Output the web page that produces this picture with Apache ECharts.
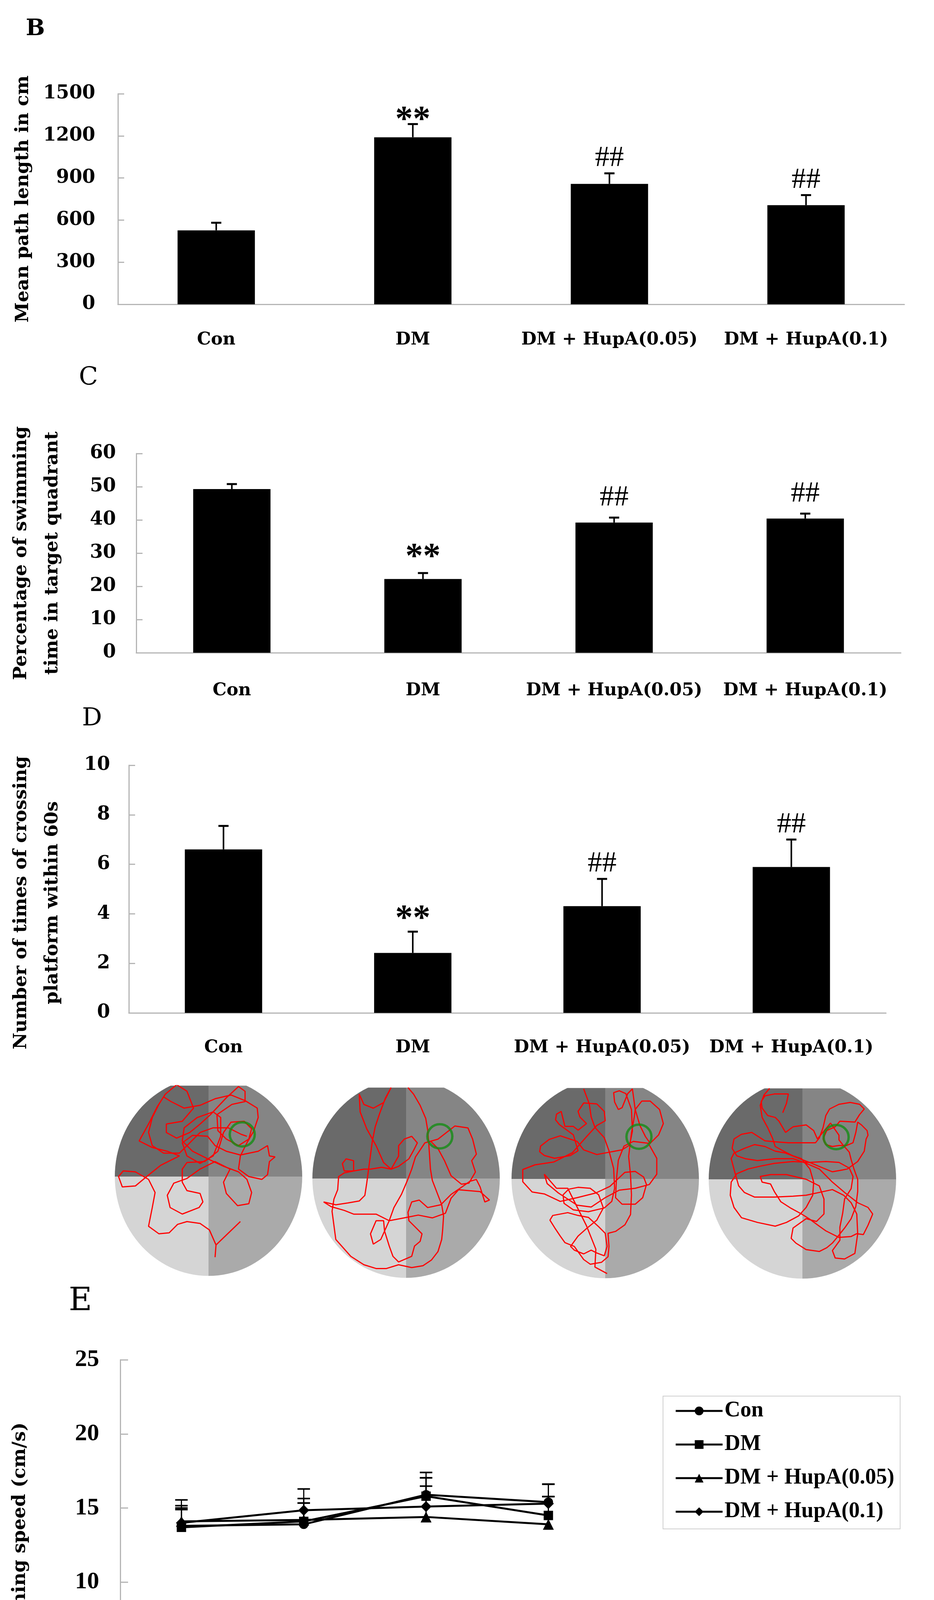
<!DOCTYPE html>
<html><head><meta charset="utf-8">
<script src="https://cdn.jsdelivr.net/npm/echarts/dist/echarts.min.js"></script>
<style>html,body{margin:0;padding:0;background:#fff}#c{width:2392px;height:4599px}</style>
</head><body><div id="c"></div>
<script>
// ---------- data ----------
const groups = ['Con', 'DM', 'DM + HupA(0.05)', 'DM + HupA(0.1)'];
const sigMarks = ['', '**', '##', '##'];

const pathMean = [527, 1190, 858, 706];
const pathErr = [54, 94, 75, 72];
const pathTicks = [0, 1500, 300];

const quadMean = [49.3, 22.2, 39.2, 40.4];
const quadErr = [1.5, 1.8, 1.5, 1.5];
const quadTicks = [0, 60, 10];

const crossMean = [6.6, 2.42, 4.31, 5.89];
const crossErr = [0.95, 0.86, 1.1, 1.11];
const crossTicks = [0, 10, 2];

const days = ['day 1', 'day 2', 'day 3', 'day 4'];
const speedCon = [13.8, 13.9, 15.9, 15.4];
const speedDM = [13.7, 14.1, 15.8, 14.5];
const speedH05 = [14.1, 14.2, 14.4, 13.9];
const speedH1 = [14.0, 14.85, 15.1, 15.3];
const errCon = [1.36, 1.44, 1.5, 1.21];
const errDM = [1.3, 1.54, 1.24, 1.27];
const errH05 = [1.45, 1.14, 2.08, 1.87];
const errH1 = [0.9, 1.44, 1.94, 1.31];
const speedTicks = [0, 25, 5];

// swim paths (pool units: pool half-width = 100)
const platform = [36, 45];
const traceCon = [[7,-86],[8,-73],[34,-48],[8,-73],[1,-57],[-9,-50],[-23,-48],[-33,-51],[-42,-60],[-53,-61],[-64,-53],[-60,-33],[-57,-17],[-64,-3],[-78,5],[-91,6],[-96,0],[-92,-11],[-78,-10],[-66,0],[-51,12],[-31,22],[-44,27],[-60,31],[-74,38],[-64,56],[-55,74],[-46,88],[-34,98],[-23,91],[-16,73],[-28,59],[-45,56],[-45,47],[-34,41],[-20,47],[-9,56],[2,66],[19,84],[32,96],[39,91],[39,80],[25,77],[9,66],[10,49],[19,40],[32,33],[43,40],[46,51],[38,59],[24,58],[16,47],[10,27],[-4,16],[-23,15],[-28,8],[-28,-6],[-23,-15],[-9,-18],[-6,-27],[-10,-33],[-28,-40],[-41,-33],[-44,-20],[-37,-7],[-23,-2],[-9,8],[7,16],[23,8],[16,-6],[19,-18],[31,-31],[43,-29],[46,-17],[41,-3],[32,5],[16,11],[-1,19],[-17,27],[-28,38],[-26,52],[-12,63],[5,69],[13,63],[13,43],[5,22],[-9,14],[-23,22],[-28,36],[-17,44],[-1,43],[7,33],[19,27],[34,23],[53,27],[63,33],[65,22],[71,21],[65,16],[63,2],[57,-3],[43,0],[32,8],[34,22],[41,36],[48,48],[53,63],[52,73],[39,81],[24,87],[7,83],[-9,76],[-26,73],[-40,80],[-48,85],[-53,77],[-60,63],[-64,47],[-60,33],[-48,25],[-31,25],[-20,36],[-9,47],[5,52],[21,52],[35,45],[41,43]];
const traceDM = [[2,97],[8,90],[15,78],[21,64],[23,52],[24,40],[25,25],[26,10],[28,-2],[33,-15],[38,-28],[40,-40],[39,-55],[38,-65],[34,-78],[27,-87],[18,-93],[6,-95],[-8,-92],[-21,-96],[-32,-96],[-45,-92],[-59,-83],[-75,-65],[-77,-50],[-79,-35],[-77,-22],[-73,-12],[-72,2],[-66,6],[-56,8],[-56,19],[-64,21],[-68,16],[-66,8],[-56,8],[-45,10],[-38,10],[-26,12],[-16,10],[-8,13],[3,21],[8,30],[12,38],[6,45],[-2,42],[-8,35],[-8,24],[-16,10],[-24,17],[-32,35],[-42,53],[-49,71],[-50,90],[-45,79],[-35,75],[-24,81],[-16,97],[-22,86],[-28,70],[-33,55],[-36,40],[-38,25],[-40,10],[-42,-5],[-44,-18],[-50,-24],[-62,-26],[-75,-28],[-88,-25],[-80,-30],[-66,-34],[-56,-38],[-44,-38],[-32,-38],[-18,-45],[-2,-42],[13,-39],[28,-42],[42,-37],[48,-21],[56,-12],[68,-13],[79,-14],[89,-23],[84,-25],[79,-9],[75,-1],[68,-3],[61,-8],[48,-17],[37,-28],[23,-31],[14,-23],[6,-25],[2,-36],[3,-45],[10,-52],[17,-59],[15,-67],[9,-72],[6,-83],[-8,-89],[-14,-83],[-18,-72],[-23,-56],[-24,-45],[-32,-45],[-38,-59],[-35,-70],[-27,-65],[-18,-45],[-13,-31],[-5,-17],[1,-3],[6,10],[10,23],[20,38],[34,42],[52,56],[66,54],[71,42],[75,26],[70,19],[74,7],[67,-5],[59,-6],[48,3],[41,19],[34,32],[26,40]];
const traceH05 = [[-23,96],[-17,80],[-15,66],[-11,55],[-1,44],[4,30],[9,11],[10,-10],[7,-24],[-1,-31],[-18,-35],[-34,-33],[-44,-26],[-45,-17],[-39,-11],[-29,-9],[-16,-10],[-7,-17],[-2,-31],[-9,-44],[-20,-53],[-29,-61],[-37,-72],[-33,-76],[-23,-80],[-15,-76],[-9,-79],[-1,-82],[2,-72],[0,-58],[-7,-51],[-18,-41],[-29,-39],[-40,-36],[-56,-39],[-59,-44],[-54,-52],[-48,-61],[-43,-68],[-33,-72],[-23,-86],[-16,-91],[-4,-89],[3,-83],[4,-72],[3,-58],[11,-56],[21,-49],[27,-38],[28,-17],[27,4],[25,24],[28,49],[31,66],[32,74],[39,83],[48,83],[58,74],[62,59],[57,47],[48,38],[43,45],[37,57],[32,74],[29,96],[24,91],[18,76],[14,74],[10,82],[9,92],[15,94],[22,91],[28,74],[29,51],[26,36],[18,31],[7,29],[-9,26],[-23,31],[-30,40],[-48,46],[-60,42],[-69,35],[-70,29],[-65,25],[-54,22],[-37,25],[-29,30],[-34,47],[-49,58],[-53,63],[-52,69],[-47,72],[-43,56],[-34,56],[-29,52],[-20,59],[-27,66],[-29,72],[-23,81],[-9,80],[-1,72],[0,62],[-9,57],[-20,45],[-35,28],[-55,18],[-75,15],[-88,10],[-88,-3],[-78,-14],[-65,-16],[-48,-24],[-30,-20],[-10,-15],[5,-8],[21,7],[32,8],[41,2],[44,-6],[40,-20],[32,-27],[18,-27],[11,-20],[12,0],[14,20],[20,35],[30,40],[46,38],[55,22],[55,5],[47,-6],[32,-10],[15,-12],[0,-20],[-15,-30],[-30,-28],[-50,-15],[-62,-5],[-65,5],[-52,-10],[-40,-10],[-20,-50],[-10,-75],[-11,-94],[2,-101]];
const traceH1 = [[-35,97],[-41,90],[-45,79],[-43,66],[-37,55],[-32,44],[-29,35],[-20,30],[-10,25],[-1,22],[8,11],[12,-3],[11,-17],[4,-30],[-4,-39],[-17,-46],[-29,-50],[-48,-46],[-65,-41],[-73,-30],[-77,-17],[-76,-3],[-70,6],[-58,11],[-45,14],[-30,17],[-10,19],[7,18],[25,19],[39,18],[50,12],[54,3],[52,-10],[45,-21],[43,-36],[40,-51],[40,-65],[32,-76],[35,-84],[45,-85],[56,-79],[59,-58],[58,-37],[52,-25],[44,-17],[32,-11],[18,-14],[4,-17],[-10,-18],[-30,-19],[-51,-19],[-62,-14],[-68,-7],[-72,7],[-76,22],[-73,28],[-62,33],[-51,37],[-40,35],[-29,30],[-18,28],[-3,22],[10,17],[22,12],[32,8],[43,10],[48,11],[59,19],[66,30],[68,43],[70,47],[69,52],[63,58],[59,61],[57,50],[54,39],[47,36],[39,36],[32,35],[25,37],[22,43],[26,52],[35,56],[40,62],[56,61],[61,69],[66,75],[61,80],[51,82],[39,80],[29,75],[25,68],[22,55],[18,44],[14,39],[-1,39],[-15,39],[-29,40],[-40,41],[-54,50],[-65,48],[-73,43],[-75,33],[-70,25],[-61,22],[-48,20],[-29,22],[-10,22],[4,17],[18,11],[26,3],[32,-3],[45,-14],[59,-25],[70,-30],[75,-37],[70,-49],[65,-59],[58,-58],[52,-61],[39,-62],[25,-55],[18,-50],[7,-42],[-1,-37],[-12,-31],[-23,-24],[-30,-13],[-34,-5],[-43,-3],[-45,3],[-34,5],[-17,5],[4,0],[18,-7],[23,-21],[23,-37],[15,-45],[4,-42],[-10,-52],[-12,-63],[-7,-68],[4,-75],[18,-77],[26,-73],[32,-68],[37,-62],[45,-52],[52,-42],[57,-29],[59,-13],[59,0],[55,11],[52,21],[50,29],[43,37],[39,42],[39,47],[30,60],[16,43],[12,52],[4,58],[-10,56],[-18,50],[-25,62],[-29,66],[-37,68],[-43,76],[-44,83],[-40,89],[-30,91],[-15,91],[-17,81],[-21,71]];
const traces = [traceCon, traceDM, traceH05, traceH1];

// ---------- layout / style ----------
const SERIF = 'DejaVu Serif';
const TIMES = 'Liberation Serif';
const AX = '#b5b5b5';
const chart = echarts.init(document.getElementById('c'), null, {renderer: 'canvas'});

const barGrids = [
  {left: 302, top: 240, width: 2014, height: 539},
  {left: 349, top: 1161, width: 1958, height: 510},
  {left: 330, top: 1959, width: 1939, height: 634}
];
const eGrid = {left: 308, top: 3481, width: 1253, height: 949};
const poolCenters = [[534, 3012], [1040, 3017], [1550, 3018], [2055, 3019]];
const POOL_RX = 100, POOL_RY = 106, POOL_TOP = 97, UNIT = 2.4;

const grids = barGrids.concat([eGrid]).concat(poolCenters.map(c => ({
  left: c[0] - POOL_RX * UNIT, top: c[1] - POOL_TOP * UNIT,
  width: 2 * POOL_RX * UNIT, height: (POOL_TOP + POOL_RY) * UNIT
}))).map(g => Object.assign({outerBoundsMode: 'none', containLabel: false}, g));

function catAxis(gi, margin) {
  return {
    type: 'category', gridIndex: gi, data: groups,
    axisLine: {lineStyle: {color: AX, width: 3}},
    axisTick: {inside: true, length: 15, lineStyle: {color: AX, width: 3}},
    axisLabel: {interval: 0, hideOverlap: false, margin: margin, color: '#000', fontFamily: SERIF, fontWeight: 'bold', fontSize: 45, lineHeight: 50}
  };
}
function valAxis(gi, t, name, gap, labelMargin, extra) {
  return Object.assign({
    type: 'value', gridIndex: gi, min: t[0], max: t[1], interval: t[2],
    splitLine: {show: false},
    axisLine: {show: true, lineStyle: {color: AX, width: 3}},
    axisTick: {show: true, inside: true, length: 16, lineStyle: {color: AX, width: 3}},
    axisLabel: {margin: labelMargin, color: '#000', fontFamily: SERIF, fontWeight: 'bold', fontSize: 48,
      formatter: v => String(v)},
    name: name, nameLocation: 'middle', nameRotate: 90, nameGap: gap,
    nameTextStyle: {color: '#000', fontFamily: SERIF, fontWeight: 'bold', fontSize: 47, lineHeight: 80}
  }, extra || {});
}

function errRenderer(marks, offStar, offHash, capHalf, lw) {
  return function (params, api) {
    const x = api.value(0), m = api.value(1), e = api.value(2);
    const p0 = api.coord([x, m]), p1 = api.coord([x, m + e]);
    const ch = [
      {type: 'line', shape: {x1: p0[0], y1: p0[1], x2: p1[0], y2: p1[1]}, style: {stroke: '#000', lineWidth: lw}},
      {type: 'line', shape: {x1: p1[0] - capHalf, y1: p1[1], x2: p1[0] + capHalf, y2: p1[1]}, style: {stroke: '#000', lineWidth: lw + 1}}
    ];
    const mk = marks ? marks[params.dataIndex % marks.length] : '';
    if (mk) {
      const star = mk === '**';
      ch.push({type: 'text', style: {
        text: mk, x: p1[0], y: p1[1] - (star ? offStar : offHash), fill: '#000',
        font: star ? 'bold 90px "Liberation Serif"' : 'normal 74px "Liberation Serif"',
        align: 'center', verticalAlign: 'middle', textAlign: 'center', textVerticalAlign: 'middle'
      }});
    }
    return {type: 'group', children: ch};
  };
}

function barSet(gi, mean, err, offStar, offHash) {
  return [
    {type: 'bar', xAxisIndex: gi, yAxisIndex: gi, data: mean, barWidth: 198,
     itemStyle: {color: '#000'}, silent: true, z: 2},
    {type: 'custom', xAxisIndex: gi, yAxisIndex: gi, z: 3, silent: true,
     data: mean.map((m, i) => [i, m, err[i]]),
     renderItem: errRenderer(sigMarks, offStar, offHash, 13, 4)}
  ];
}

function poolRenderer(params, api) {
  const cols = ['#858585', '#6a6a6a', '#d5d5d5', '#aaaaaa'];
  const children = [];
  for (let q = 0; q < 4; q++) {
    const pts = [api.coord([0, 0])];
    for (let a = q * 90; a <= q * 90 + 90; a += 3) {
      const r = a * Math.PI / 180;
      pts.push(api.coord([POOL_RX * Math.cos(r), POOL_RY * Math.sin(r)]));
    }
    children.push({type: 'polygon', shape: {points: pts}, style: {fill: cols[q]}});
  }
  return {type: 'group', children: children};
}

const xAxes = [catAxis(0, 66), catAxis(1, 72), catAxis(2, 64),
  {type: 'value', gridIndex: 3, min: 0.5, max: 4.5, interval: 0.5,
   splitLine: {show: false},
   axisLine: {lineStyle: {color: AX, width: 3}},
   axisTick: {inside: true, length: 15, lineStyle: {color: AX, width: 3}},
   axisLabel: {margin: 66, color: '#000', fontFamily: TIMES, fontWeight: 'bold', fontSize: 64,
     formatter: v => (Number.isInteger(v) ? days[v - 1] : '')}}
];
const yAxes = [
  valAxis(0, pathTicks, 'Mean path length in cm', 172, 58),
  valAxis(1, quadTicks, 'Percentage of swimming\ntime in target quadrant', 174, 52),
  valAxis(2, crossTicks, 'Number of times of crossing\nplatform within 60s', 155, 48,
    {nameTextStyle: {color: '#000', fontFamily: SERIF, fontWeight: 'bold', fontSize: 47, lineHeight: 80, padding: [0, 70, 0, 0]}}),
  valAxis(3, speedTicks, 'Swimming speed (cm/s)', 216, 54,
    {axisLabel: {margin: 54, color: '#000', fontFamily: TIMES, fontWeight: 'bold', fontSize: 62},
     axisTick: {show: true, inside: true, length: 20, lineStyle: {color: AX, width: 3}}})
];
poolCenters.forEach((c, k) => {
  xAxes.push({type: 'value', gridIndex: 4 + k, min: -POOL_RX, max: POOL_RX, show: false});
  yAxes.push({type: 'value', gridIndex: 4 + k, min: -POOL_RY, max: POOL_TOP, show: false});
});

const speedSets = [
  {name: 'Con', data: speedCon, err: errCon, symbol: 'circle', size: 24},
  {name: 'DM', data: speedDM, err: errDM, symbol: 'rect', size: 24},
  {name: 'DM + HupA(0.05)', data: speedH05, err: errH05, symbol: 'triangle', size: 28},
  {name: 'DM + HupA(0.1)', data: speedH1, err: errH1, symbol: 'diamond', size: 28}
];

const series = []
  .concat(barSet(0, pathMean, pathErr, 8, 38))
  .concat(barSet(1, quadMean, quadErr, 38, 50))
  .concat(barSet(2, crossMean, crossErr, 30, 38));

speedSets.forEach(s => {
  series.push({type: 'custom', xAxisIndex: 3, yAxisIndex: 3, z: 2, silent: true,
    data: s.data.map((v, i) => [i + 1, v, s.err[i]]),
    renderItem: errRenderer(null, 0, 0, 16, 3)});
});
speedSets.forEach(s => {
  series.push({type: 'line', name: s.name, xAxisIndex: 3, yAxisIndex: 3, z: 3,
    data: s.data.map((v, i) => [i + 1, v]),
    symbol: s.symbol, symbolSize: s.size, showSymbol: true,
    lineStyle: {color: '#000', width: 5}, itemStyle: {color: '#000'}});
});

poolCenters.forEach((c, k) => {
  const gi = 4 + k;
  series.push({type: 'custom', xAxisIndex: gi, yAxisIndex: gi, clip: true, silent: true, z: 1,
    data: [[0, 0]], renderItem: poolRenderer});
  series.push({type: 'line', xAxisIndex: gi, yAxisIndex: gi, clip: true, silent: true, z: 2,
    data: traces[k], showSymbol: false, symbol: 'none',
    lineStyle: {color: '#ff0000', width: 3}});
  series.push({type: 'scatter', xAxisIndex: gi, yAxisIndex: gi, silent: true, z: 3,
    data: [platform], symbol: 'circle', symbolSize: [64, 62],
    itemStyle: {color: 'rgba(0,0,0,0)', borderColor: '#148c14', borderWidth: 6}});
});

const titleStyle = (size, weight) => ({color: '#000', fontFamily: SERIF, fontWeight: weight, fontSize: size});

chart.setOption({
  animation: false,
  backgroundColor: '#fff',
  title: [
    {text: 'B', left: 66, top: 46, padding: 0, textStyle: titleStyle(58, 'bold')},
    {text: 'C', left: 202, top: 936, padding: 0, textStyle: titleStyle(64, 'normal')},
    {text: 'D', left: 210, top: 1808, padding: 0, textStyle: titleStyle(64, 'normal')},
    {text: 'E', left: 176, top: 3292, padding: 0, textStyle: titleStyle(82, 'normal')}
  ],
  legend: {
    orient: 'vertical', left: 1698, top: 3574, padding: [8, 15, 14, 30],
    itemWidth: 120, itemHeight: 28, itemGap: 26,
    borderColor: '#cfcfcf', borderWidth: 2, backgroundColor: '#fff',
    lineStyle: {width: 5, color: '#000'},
    itemStyle: {color: '#000'},
    textStyle: {color: '#000', fontFamily: TIMES, fontWeight: 'bold', fontSize: 56, lineHeight: 60},
    data: speedSets.map(s => s.name)
  },
  grid: grids,
  xAxis: xAxes,
  yAxis: yAxes,
  series: series
});
</script></body></html>
